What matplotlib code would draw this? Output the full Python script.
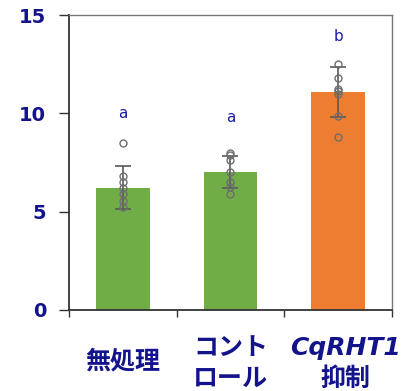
import numpy as np
import matplotlib.pyplot as plt
from matplotlib.transforms import blended_transform_factory

plt.rcParams['font.family'] = ['Noto Sans CJK JP', 'DejaVu Sans']

groups = ["無処理", "コント\nロール", "CqRHT1\n抑制"]
means = [6.22, 7.02, 11.1]
sds = [1.08, 0.80, 1.27]
points = [
    [8.47, 6.81, 6.52, 6.22, 5.88, 5.54, 5.22],
    [8.00, 7.88, 7.63, 7.02, 6.51, 6.24, 5.91],
    [12.49, 11.78, 11.22, 11.13, 10.98, 9.86, 8.80],
]
letters = ["a", "a", "b"]
letter_y = [10.0, 9.8, 13.9]
colors = ["#70AD47", "#70AD47", "#ED7D31"]
navy = "#13138c"

fig = plt.figure(figsize=(4.02, 3.91), dpi=100)
ax = fig.add_axes([0.1716, 0.2072, 0.8034, 0.7544])

x = np.arange(len(groups))
ax.bar(x, means, width=0.5, color=colors, zorder=1)
ax.errorbar(x, means, yerr=sds, fmt="none", ecolor="#595959", elinewidth=1.2,
            capsize=6, capthick=1.2, zorder=2)
for i, vals in enumerate(points):
    ax.plot([x[i]] * len(vals), vals, "o", ms=5, mfc="none", mec="#6e6e6e",
            mew=1.0, zorder=3)
for i, t in enumerate(letters):
    ax.text(x[i], letter_y[i], t, ha="center", va="center", fontsize=11,
            color="#1c1ca8", family="DejaVu Sans")

ax.set_xlim(-0.5, 2.5)
ax.set_ylim(0, 15)
ax.set_yticks([0, 5, 10, 15])
ax.set_xticks([-0.5, 0.5, 1.5, 2.5])
ax.set_xticklabels([])
ax.tick_params(axis="y", direction="out", length=7, width=1, color="#333333",
               labelsize=14, labelcolor=navy, pad=9.5)
ax.tick_params(axis="x", direction="out", length=5, width=1, color="#333333")
for lab in ax.get_yticklabels():
    lab.set_fontweight("bold")
    lab.set_family("DejaVu Sans")
for side in ["left", "bottom"]:
    ax.spines[side].set_color("#333333")
    ax.spines[side].set_linewidth(1.3)
for side in ["top", "right"]:
    ax.spines[side].set_color("#777777")
    ax.spines[side].set_linewidth(1.0)

# category labels under the axis, one text per line (y in pixels from top)
trans = blended_transform_factory(ax.transData, fig.transFigure)
label_style = dict(transform=trans, ha="center", va="center", fontsize=18,
                   fontweight="bold", color=navy)
label_x = [0, 1, 2.065]
for i, name in enumerate(groups):
    lines = name.split("\n")
    if len(lines) == 1:
        ax.text(label_x[i], 1 - 361 / 391, lines[0], **label_style)
        continue
    for line, ypx in zip(lines, [348, 379]):
        if line.isascii():
            ax.text(label_x[i], 1 - ypx / 391, line, **label_style,
                    fontstyle="italic", family="DejaVu Sans")
        else:
            ax.text(label_x[i], 1 - ypx / 391, line, **label_style)

fig.savefig("out.png", dpi=100)
